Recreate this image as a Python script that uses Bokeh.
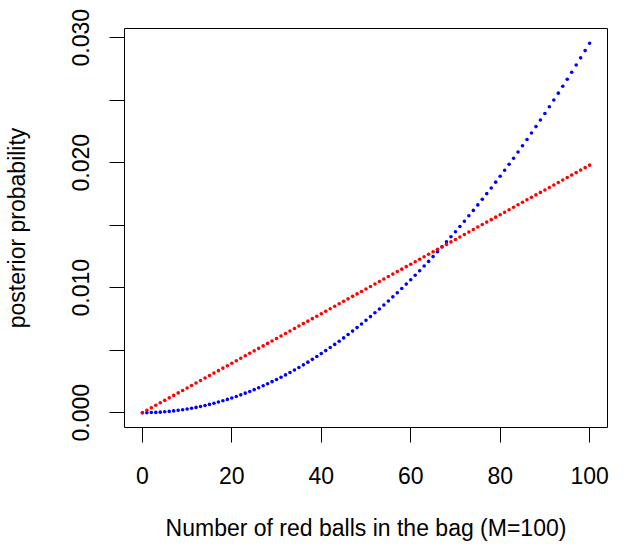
from bokeh.plotting import figure
from bokeh.models import Range1d, FixedTicker
from bokeh.embed import file_html
from bokeh.resources import INLINE

# number of red balls in the bag (M = 100)
m_values = list(range(0, 101))

# posterior probability, red series
post_red = [
    0.0, 0.000198, 0.000396, 0.000594, 0.000792, 0.000990, 0.001188, 0.001386, 0.001584, 0.001782,
    0.001980, 0.002178, 0.002376, 0.002574, 0.002772, 0.002970, 0.003168, 0.003366, 0.003564, 0.003762,
    0.003960, 0.004158, 0.004356, 0.004554, 0.004752, 0.004950, 0.0051485, 0.0053465, 0.0055446, 0.0057426,
    0.0059406, 0.0061386, 0.0063366, 0.0065347, 0.0067327, 0.0069307, 0.0071287, 0.0073267, 0.0075248, 0.0077228,
    0.0079208, 0.0081188, 0.0083168, 0.0085149, 0.0087129, 0.0089109, 0.0091089, 0.0093069, 0.0095050, 0.0097030,
    0.0099010, 0.0100990, 0.0102970, 0.0104950, 0.0106931, 0.0108911, 0.0110891, 0.0112871, 0.0114851, 0.0116832,
    0.0118812, 0.0120792, 0.0122772, 0.0124752, 0.0126733, 0.0128713, 0.0130693, 0.0132673, 0.0134653, 0.0136634,
    0.0138614, 0.0140594, 0.0142574, 0.0144554, 0.0146535, 0.0148515, 0.0150495, 0.0152475, 0.0154455, 0.0156436,
    0.0158416, 0.0160396, 0.0162376, 0.0164356, 0.0166337, 0.0168317, 0.0170297, 0.0172277, 0.0174257, 0.0176238,
    0.0178218, 0.0180198, 0.0182178, 0.0184158, 0.0186139, 0.0188119, 0.0190099, 0.0192079, 0.0194059, 0.0196040,
    0.0198020,
]

# posterior probability, blue series
post_blue = [
    0.0, 0.00000296, 0.0000118, 0.0000266, 0.0000473, 0.0000739, 0.0001064, 0.0001448, 0.0001892, 0.0002394,
    0.0002956, 0.0003576, 0.0004256, 0.0004995, 0.0005793, 0.0006650, 0.0007566, 0.0008541, 0.0009576, 0.0010669,
    0.0011822, 0.0013034, 0.0014305, 0.0015635, 0.0017024, 0.0018472, 0.0019979, 0.0021546, 0.0023171, 0.0024856,
    0.0026600, 0.0028403, 0.0030264, 0.0032186, 0.0034166, 0.0036205, 0.0038304, 0.0040461, 0.0042678, 0.0044954,
    0.0047288, 0.0049682, 0.0052135, 0.0054647, 0.0057219, 0.0059849, 0.0062539, 0.0065287, 0.0068095, 0.0070962,
    0.0073888, 0.0076873, 0.0079917, 0.0083021, 0.0086183, 0.0089405, 0.0092685, 0.0096025, 0.0099424, 0.0102882,
    0.0106399, 0.0109975, 0.0113610, 0.0117305, 0.0121058, 0.0124871, 0.0128742, 0.0132673, 0.0136663, 0.0140712,
    0.0144820, 0.0148988, 0.0153214, 0.0157500, 0.0161844, 0.0166248, 0.0170711, 0.0175233, 0.0179814, 0.0184454,
    0.0189153, 0.0193912, 0.0198729, 0.0203606, 0.0208541, 0.0213536, 0.0218590, 0.0223703, 0.0228875, 0.0234107,
    0.0239397, 0.0244747, 0.0250155, 0.0255623, 0.0261150, 0.0266736, 0.0272381, 0.0278085, 0.0283848, 0.0289671,
    0.0295552,
]

x_ticks = [0, 20, 40, 60, 80, 100]
y_ticks = [0.0, 0.005, 0.010, 0.015, 0.020, 0.025, 0.030]
y_tick_labels = ["0.000", "", "0.010", "", "0.020", "", "0.030"]

FONT = "Liberation Sans"

p = figure(
    width=609, height=543,
    output_backend="svg", toolbar_location=None,
    x_range=Range1d(-4, 104),
    y_range=Range1d(-0.00118221, 0.0307344),
    min_border_left=122, min_border_right=2,
    min_border_top=28, min_border_bottom=113,
)
p.background_fill_color = "white"
p.border_fill_color = "white"
p.outline_line_color = "black"
p.outline_line_width = 1
p.xgrid.visible = False
p.ygrid.visible = False

p.scatter(m_values, post_blue, size=3.6, color="#0000FF", line_color=None)
p.scatter(m_values, post_red, size=3.6, color="#FF0000", line_color=None)

for ax in (p.xaxis[0], p.yaxis[0]):
    ax.axis_line_color = None
    ax.major_tick_line_color = "black"
    ax.major_tick_line_width = 1
    ax.major_tick_in = 0
    ax.major_tick_out = 15
    ax.minor_tick_line_color = None
    ax.major_label_text_font = FONT
    ax.major_label_text_font_size = "23px"
    ax.major_label_text_color = "black"
    ax.axis_label_text_font = FONT
    ax.axis_label_text_font_size = "23px"
    ax.axis_label_text_font_style = "normal"
    ax.axis_label_text_color = "black"

p.xaxis.ticker = FixedTicker(ticks=x_ticks)
p.xaxis.major_label_standoff = 24
p.xaxis.axis_label = "Number of red balls in the bag (M=100)"
p.xaxis.axis_label_standoff = 28

p.yaxis.ticker = FixedTicker(ticks=y_ticks)
p.yaxis.major_label_overrides = {t: s for t, s in zip(y_ticks, y_tick_labels)}
p.yaxis.major_label_orientation = "vertical"
p.yaxis.major_label_standoff = 20
p.yaxis.axis_label = "posterior probability"
p.yaxis.axis_label_standoff = 40

open("out.html", "w").write(file_html(p, INLINE))
